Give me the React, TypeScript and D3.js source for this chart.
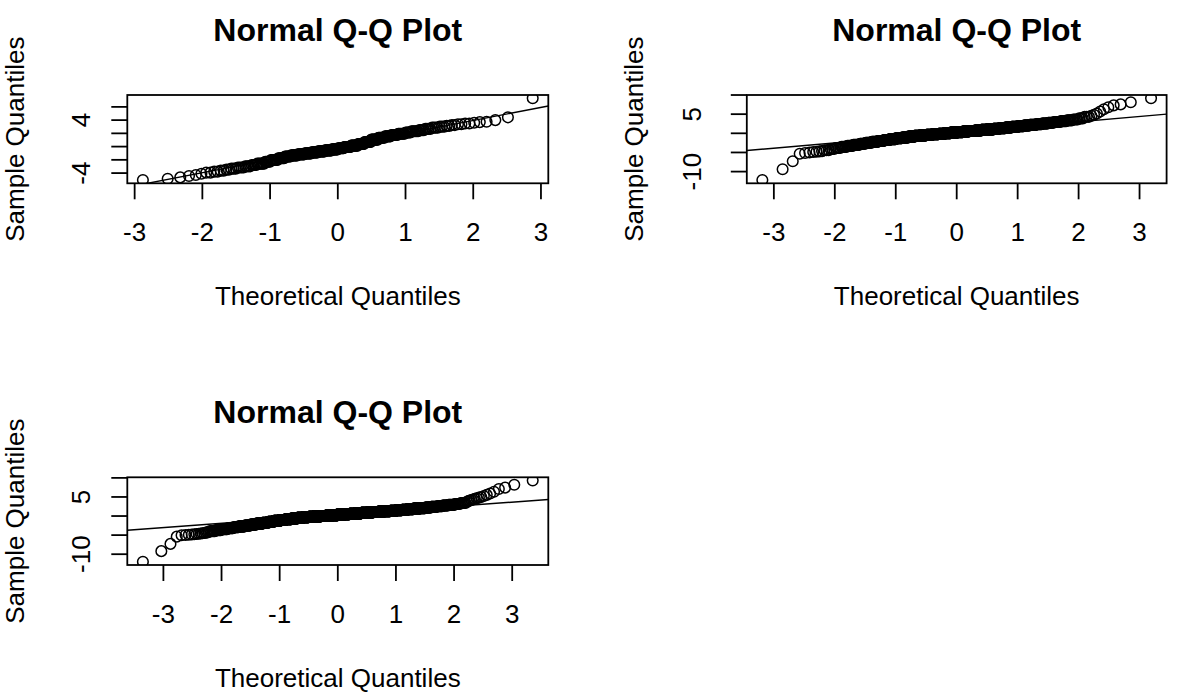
import { useEffect, useRef } from "react";
import * as d3 from "d3";

// sorted sample of each panel, kept as distinct values + how many observations sit at each value
const p1Values = [-5.05, -4.85, -4.65, -4.45, -4.3, -4.1, -3.93, -3.78, -3.63, -3.48, -3.33, -3.16, -2.98, -2.79, -2.57, -2.3, -2.03, -1.76, -1.49, -1.33, -1.17, -1.02, -0.87, -0.72, -0.57, -0.42, -0.25, -0.07, 0.14, 0.4, 0.7, 1.05, 1.33, 1.55, 1.75, 1.94, 2.13, 2.31, 2.49, 2.68, 2.86, 3.01, 3.13, 3.25, 3.37, 3.49, 3.6, 3.7, 3.76, 4.0, 4.42, 7.3];
const p1Counts = [1, 1, 1, 1, 1, 1, 2, 2, 2, 2, 3, 4, 4, 4, 6, 5, 7, 7, 7, 8, 9, 9, 9, 10, 10, 9, 9, 10, 10, 9, 9, 9, 8, 7, 7, 7, 5, 6, 4, 4, 4, 3, 2, 2, 2, 2, 1, 1, 1, 1, 1, 1];

const p2Values = [-12.2, -9.4, -7.3, -5.35, -5.15, -5.0, -4.9, -4.8, -4.72, -4.65, -4.44, -4.11, -3.82, -3.55, -3.28, -3.01, -2.74, -2.48, -2.24, -2.0, -1.76, -1.52, -1.29, -1.08, -0.87, -0.68, -0.53, -0.39, -0.25, -0.11, 0.04, 0.18, 0.32, 0.46, 0.61, 0.75, 0.89, 1.03, 1.18, 1.34, 1.5, 1.67, 1.84, 2.02, 2.2, 2.38, 2.56, 2.76, 2.97, 3.18, 3.39, 3.6, 3.9, 4.3, 4.6, 4.85, 5.15, 5.7, 6.3, 6.8, 7.3, 7.55, 8.1, 9.15];
const p2Counts = [1, 1, 1, 1, 1, 1, 1, 1, 1, 1, 3, 3, 4, 5, 6, 8, 8, 10, 11, 13, 14, 16, 18, 20, 21, 22, 24, 25, 27, 27, 27, 28, 28, 27, 27, 27, 25, 24, 22, 21, 20, 18, 16, 14, 13, 11, 10, 8, 8, 6, 5, 4, 3, 3, 1, 1, 1, 1, 1, 1, 1, 1, 1, 1];

const p3Values = [-11.98, -9.2, -7.3, -5.4, -5.05, -4.98, -4.91, -4.85, -4.79, -4.72, -4.65, -4.58, -4.5, -4.43, -4.36, -4.28, -4.2, -3.96, -3.69, -3.43, -3.19, -2.95, -2.71, -2.47, -2.23, -1.99, -1.75, -1.51, -1.27, -1.05, -0.84, -0.63, -0.44, -0.33, -0.21, -0.1, 0.01, 0.13, 0.24, 0.36, 0.48, 0.59, 0.71, 0.83, 0.94, 1.06, 1.17, 1.28, 1.39, 1.52, 1.66, 1.8, 1.94, 2.08, 2.24, 2.41, 2.58, 2.75, 2.92, 3.14, 3.41, 3.75, 3.9, 4.05, 4.2, 4.35, 4.5, 4.65, 4.82, 5.0, 5.25, 5.55, 5.9, 6.35, 7.1, 7.45, 8.2, 9.3];
const p3Counts = [1, 1, 1, 1, 1, 1, 1, 1, 1, 1, 1, 1, 1, 1, 1, 1, 1, 5, 6, 8, 9, 10, 13, 15, 18, 20, 23, 25, 29, 32, 35, 37, 41, 42, 45, 47, 49, 49, 50, 50, 49, 49, 47, 45, 42, 41, 37, 35, 32, 29, 25, 23, 20, 18, 15, 13, 10, 9, 8, 6, 5, 1, 1, 1, 1, 1, 1, 1, 1, 1, 1, 1, 1, 1, 1, 1, 1, 1];

const xTicks = [-3, -2, -1, 0, 1, 2, 3];
const p1YTicks = [-4, -2, 0, 2, 4, 6];
const p1YLabels = [-4, 4];
const p23YTicks = [-10, -5, 0, 5, 10];
const p23YLabels = [-10, 5];

const FONT = "'Liberation Sans', Arial, Helvetica, sans-serif";

// where each plot box sits on the page
const panels = [
  { values: p1Values, counts: p1Counts, yTicks: p1YTicks, yLabels: p1YLabels, left: 127.3, right: 548.3, top: 95, bottom: 183.3, yLabX: 24, yTickLabX: 90 },
  { values: p2Values, counts: p2Counts, yTicks: p23YTicks, yLabels: p23YLabels, left: 746.8, right: 1166.6, top: 95, bottom: 183.3, yLabX: 643, yTickLabX: 701 },
  { values: p3Values, counts: p3Counts, yTicks: p23YTicks, yLabels: p23YLabels, left: 127.3, right: 548.3, top: 477.3, bottom: 565, yLabX: 24, yTickLabX: 90 },
];

// inverse normal cdf (Acklam)
function qnorm(p: number) {
  const a = [-39.69683028665376, 220.9460984245205, -275.9285104469687, 138.357751867269, -30.66479806614716, 2.506628277459239];
  const b = [-54.47609879822406, 161.5858368580409, -155.6989798598866, 66.80131188771972, -13.28068155288572];
  const c = [-0.007784894002430293, -0.3223964580411365, -2.400758277161838, -2.549732539343734, 4.374664141464968, 2.938163982698783];
  const d = [0.007784695709041462, 0.3224671290700398, 2.445134137142996, 3.754408661907416];
  const plow = 0.02425;
  if (p < plow) {
    const q = Math.sqrt(-2 * Math.log(p));
    return (((((c[0] * q + c[1]) * q + c[2]) * q + c[3]) * q + c[4]) * q + c[5]) / ((((d[0] * q + d[1]) * q + d[2]) * q + d[3]) * q + 1);
  }
  if (p <= 1 - plow) {
    const q = p - 0.5;
    const r = q * q;
    return ((((((a[0] * r + a[1]) * r + a[2]) * r + a[3]) * r + a[4]) * r + a[5]) * q) / (((((b[0] * r + b[1]) * r + b[2]) * r + b[3]) * r + b[4]) * r + 1);
  }
  const q = Math.sqrt(-2 * Math.log(1 - p));
  return -(((((c[0] * q + c[1]) * q + c[2]) * q + c[3]) * q + c[4]) * q + c[5]) / ((((d[0] * q + d[1]) * q + d[2]) * q + d[3]) * q + 1);
}

function expand(values: number[], counts: number[]) {
  const out: number[] = [];
  values.forEach((v, i) => {
    for (let k = 0; k < counts[i]; k++) out.push(v);
  });
  return out;
}

// R style axis range: data range stretched by 4% each side
function padded(ext: [number, number]): [number, number] {
  const span = ext[1] - ext[0];
  return [ext[0] - 0.04 * span, ext[1] + 0.04 * span];
}

const App = () => {
  const svgRef = useRef<SVGSVGElement>(null);

  useEffect(() => {
    if (!svgRef.current) return;
    const svg = d3.select(svgRef.current);
    svg.selectAll("*").remove();

    panels.forEach((p, k) => {
      const sample = expand(p.values, p.counts);
      const n = sample.length;
      const theo = sample.map((_, i) => qnorm((i + 0.5) / n));

      const x = d3.scaleLinear().domain(padded(d3.extent(theo) as [number, number])).range([p.left, p.right]);
      const y = d3.scaleLinear().domain(padded(d3.extent(sample) as [number, number])).range([p.bottom, p.top]);

      const clipId = "plotclip" + k;
      svg.append("clipPath").attr("id", clipId)
        .append("rect")
        .attr("x", p.left).attr("y", p.top)
        .attr("width", p.right - p.left).attr("height", p.bottom - p.top);

      const g = svg.append("g");
      const plot = g.append("g").attr("clip-path", `url(#${clipId})`);

      plot.selectAll("circle")
        .data(sample)
        .join("circle")
        .attr("cx", (_, i) => x(theo[i]))
        .attr("cy", (d) => y(d))
        .attr("r", 5.3)
        .attr("fill", "none")
        .attr("stroke", "#000")
        .attr("stroke-width", 1.5);

      // qqline through the quartiles
      const q1 = d3.quantile(sample, 0.25)!;
      const q3 = d3.quantile(sample, 0.75)!;
      const z1 = qnorm(0.25);
      const z3 = qnorm(0.75);
      const slope = (q3 - q1) / (z3 - z1);
      const icpt = q1 - slope * z1;
      const [xa, xb] = x.domain();
      plot.append("line")
        .attr("x1", x(xa)).attr("y1", y(icpt + slope * xa))
        .attr("x2", x(xb)).attr("y2", y(icpt + slope * xb))
        .attr("stroke", "#000")
        .attr("stroke-width", 1.4);

      g.append("rect")
        .attr("x", p.left).attr("y", p.top)
        .attr("width", p.right - p.left).attr("height", p.bottom - p.top)
        .attr("fill", "none")
        .attr("stroke", "#000")
        .attr("stroke-width", 1.8);

      // x axis
      xTicks.forEach((t) => {
        g.append("line")
          .attr("x1", x(t)).attr("x2", x(t))
          .attr("y1", p.bottom).attr("y2", p.bottom + 16)
          .attr("stroke", "#000").attr("stroke-width", 1.8);
        g.append("text")
          .attr("x", x(t)).attr("y", p.bottom + 58)
          .attr("text-anchor", "middle")
          .attr("font-family", FONT).attr("font-size", 26)
          .text(String(t));
      });

      // y axis
      p.yTicks.forEach((v) => {
        g.append("line")
          .attr("x1", p.left - 16).attr("x2", p.left)
          .attr("y1", y(v)).attr("y2", y(v))
          .attr("stroke", "#000").attr("stroke-width", 1.8);
      });
      p.yLabels.forEach((v) => {
        g.append("text")
          .attr("transform", `translate(${p.yTickLabX},${y(v)}) rotate(-90)`)
          .attr("text-anchor", "middle")
          .attr("font-family", FONT).attr("font-size", 26)
          .text(String(v));
      });

      const cx = (p.left + p.right) / 2;
      const cy = (p.top + p.bottom) / 2;

      g.append("text")
        .attr("x", cx).attr("y", p.top - 54)
        .attr("text-anchor", "middle")
        .attr("font-family", FONT).attr("font-size", 32).attr("font-weight", "bold")
        .text("Normal Q-Q Plot");

      g.append("text")
        .attr("x", cx).attr("y", p.bottom + 122)
        .attr("text-anchor", "middle")
        .attr("font-family", FONT).attr("font-size", 26)
        .text("Theoretical Quantiles");

      g.append("text")
        .attr("transform", `translate(${p.yLabX},${cy}) rotate(-90)`)
        .attr("text-anchor", "middle")
        .attr("font-family", FONT).attr("font-size", 26)
        .text("Sample Quantiles");
    });
  }, []);

  return (
    <svg
      ref={svgRef}
      width={1204}
      height={694}
      style={{ position: "absolute", left: 0, top: 0, background: "#fff" }}
    />
  );
};

export default App;
